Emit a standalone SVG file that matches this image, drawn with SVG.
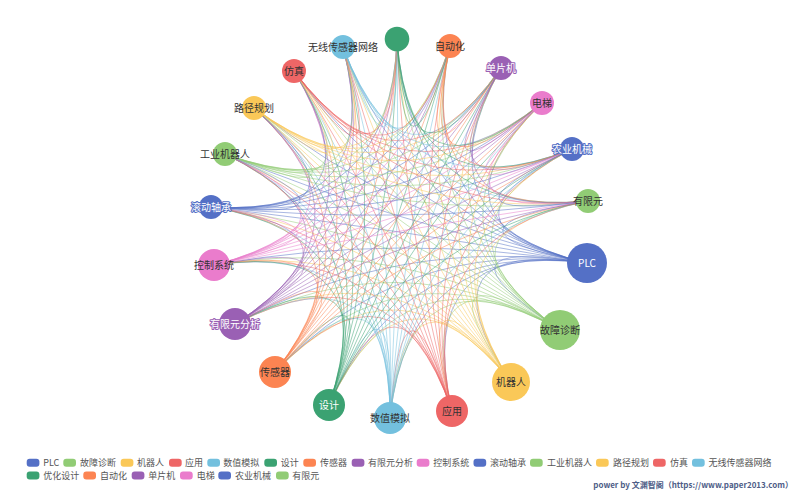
<svg xmlns="http://www.w3.org/2000/svg" width="800" height="493" viewBox="0 0 800 493">
<style>
#connectors path{fill:none;stroke-width:1;stroke-opacity:.5}
.nd text{font-family:"Noto Sans CJK SC","Liberation Sans",sans-serif;font-size:10px;text-anchor:middle}
.dk{fill:#333}
.wt{fill:#fff;stroke-width:2;paint-order:stroke;stroke-linejoin:round}
.lg text{font-family:"Noto Sans CJK SC","Liberation Sans",sans-serif;font-size:9px;fill:#555}
.lg rect{width:12.7px;height:8px;rx:3px}
</style>
<rect width="800" height="493" fill="#fff"/>
<g id="connectors">
<g stroke="#5470c6">
<path d="M587 263Q417 235 560 330"/><path d="M587 263Q415 238 511 382"/><path d="M587 263Q412 239 452 411"/><path d="M587 263Q409 240 390 418"/><path d="M587 263Q405 239 329 405"/><path d="M587 263Q403 237 275 372"/><path d="M587 263Q401 235 235 324"/><path d="M587 263Q400 232 214 265"/><path d="M587 263Q400 229 211 207"/><path d="M587 263Q400 226 225 154"/><path d="M587 263Q402 224 254 108"/><path d="M587 263Q404 222 294 71"/><path d="M587 263Q406 221 343 47"/><path d="M587 263Q409 221 397 39"/><path d="M587 263Q412 221 450 46"/><path d="M587 263Q414 222 501 68"/><path d="M587 263Q416 224 542 103"/><path d="M587 263Q418 226 572 149"/><path d="M587 263Q418 229 588 201"/>
</g>
<g stroke="#91cc75">
<path d="M560 330Q414 241 511 382"/><path d="M560 330Q411 242 452 411"/><path d="M560 330Q408 243 390 418"/><path d="M560 330Q404 242 329 405"/><path d="M560 330Q402 240 275 372"/><path d="M560 330Q400 238 235 324"/><path d="M560 330Q399 235 214 265"/><path d="M560 330Q399 232 211 207"/><path d="M560 330Q399 229 225 154"/><path d="M560 330Q401 227 254 108"/><path d="M560 330Q403 225 294 71"/><path d="M560 330Q405 224 343 47"/><path d="M560 330Q408 224 397 39"/><path d="M560 330Q411 224 450 46"/><path d="M560 330Q413 225 501 68"/><path d="M560 330Q415 227 542 103"/><path d="M560 330Q417 229 572 149"/><path d="M560 330Q417 232 588 201"/>
</g>
<g stroke="#fac858">
<path d="M511 382Q409 245 452 411"/><path d="M511 382Q406 246 390 418"/><path d="M511 382Q402 245 329 405"/><path d="M511 382Q400 243 275 372"/><path d="M511 382Q398 241 235 324"/><path d="M511 382Q397 238 214 265"/><path d="M511 382Q397 235 211 207"/><path d="M511 382Q397 232 225 154"/><path d="M511 382Q399 230 254 108"/><path d="M511 382Q401 228 294 71"/><path d="M511 382Q403 227 343 47"/><path d="M511 382Q406 227 397 39"/><path d="M511 382Q409 227 450 46"/><path d="M511 382Q411 228 501 68"/><path d="M511 382Q413 230 542 103"/><path d="M511 382Q415 232 572 149"/><path d="M511 382Q415 235 588 201"/>
</g>
<g stroke="#ee6666">
<path d="M452 411Q403 247 390 418"/><path d="M452 411Q399 246 329 405"/><path d="M452 411Q397 244 275 372"/><path d="M452 411Q395 242 235 324"/><path d="M452 411Q394 239 214 265"/><path d="M452 411Q394 236 211 207"/><path d="M452 411Q394 233 225 154"/><path d="M452 411Q396 231 254 108"/><path d="M452 411Q398 229 294 71"/><path d="M452 411Q400 228 343 47"/><path d="M452 411Q403 228 397 39"/><path d="M452 411Q406 228 450 46"/><path d="M452 411Q408 229 501 68"/><path d="M452 411Q410 231 542 103"/><path d="M452 411Q412 233 572 149"/><path d="M452 411Q412 236 588 201"/>
</g>
<g stroke="#73c0de">
<path d="M390 418Q396 247 329 405"/><path d="M390 418Q394 245 275 372"/><path d="M390 418Q392 243 235 324"/><path d="M390 418Q391 240 214 265"/><path d="M390 418Q391 237 211 207"/><path d="M390 418Q391 234 225 154"/><path d="M390 418Q393 232 254 108"/><path d="M390 418Q395 230 294 71"/><path d="M390 418Q397 229 343 47"/><path d="M390 418Q400 229 397 39"/><path d="M390 418Q403 229 450 46"/><path d="M390 418Q405 230 501 68"/><path d="M390 418Q407 232 542 103"/><path d="M390 418Q409 234 572 149"/><path d="M390 418Q409 237 588 201"/>
</g>
<g stroke="#3ba272">
<path d="M329 405Q390 244 275 372"/><path d="M329 405Q388 242 235 324"/><path d="M329 405Q387 239 214 265"/><path d="M329 405Q387 236 211 207"/><path d="M329 405Q387 233 225 154"/><path d="M329 405Q389 231 254 108"/><path d="M329 405Q391 229 294 71"/><path d="M329 405Q393 228 343 47"/><path d="M329 405Q396 228 397 39"/><path d="M329 405Q399 228 450 46"/><path d="M329 405Q401 229 501 68"/><path d="M329 405Q403 231 542 103"/><path d="M329 405Q405 233 572 149"/><path d="M329 405Q405 236 588 201"/>
</g>
<g stroke="#fc8452">
<path d="M275 372Q386 240 235 324"/><path d="M275 372Q385 237 214 265"/><path d="M275 372Q385 234 211 207"/><path d="M275 372Q385 231 225 154"/><path d="M275 372Q387 229 254 108"/><path d="M275 372Q389 227 294 71"/><path d="M275 372Q391 226 343 47"/><path d="M275 372Q394 226 397 39"/><path d="M275 372Q397 226 450 46"/><path d="M275 372Q399 227 501 68"/><path d="M275 372Q401 229 542 103"/><path d="M275 372Q403 231 572 149"/><path d="M275 372Q403 234 588 201"/>
</g>
<g stroke="#9a60b4">
<path d="M235 324Q383 235 214 265"/><path d="M235 324Q383 232 211 207"/><path d="M235 324Q383 229 225 154"/><path d="M235 324Q385 227 254 108"/><path d="M235 324Q387 225 294 71"/><path d="M235 324Q389 224 343 47"/><path d="M235 324Q392 224 397 39"/><path d="M235 324Q395 224 450 46"/><path d="M235 324Q397 225 501 68"/><path d="M235 324Q399 227 542 103"/><path d="M235 324Q401 229 572 149"/><path d="M235 324Q401 232 588 201"/>
</g>
<g stroke="#ea7ccc">
<path d="M214 265Q382 229 211 207"/><path d="M214 265Q382 226 225 154"/><path d="M214 265Q384 224 254 108"/><path d="M214 265Q386 222 294 71"/><path d="M214 265Q388 221 343 47"/><path d="M214 265Q391 221 397 39"/><path d="M214 265Q394 221 450 46"/><path d="M214 265Q396 222 501 68"/><path d="M214 265Q398 224 542 103"/><path d="M214 265Q400 226 572 149"/><path d="M214 265Q400 229 588 201"/>
</g>
<g stroke="#5470c6">
<path d="M211 207Q382 223 225 154"/><path d="M211 207Q384 221 254 108"/><path d="M211 207Q386 219 294 71"/><path d="M211 207Q388 218 343 47"/><path d="M211 207Q391 218 397 39"/><path d="M211 207Q394 218 450 46"/><path d="M211 207Q396 219 501 68"/><path d="M211 207Q398 221 542 103"/><path d="M211 207Q400 223 572 149"/><path d="M211 207Q400 226 588 201"/>
</g>
<g stroke="#91cc75">
<path d="M225 154Q384 218 254 108"/><path d="M225 154Q386 216 294 71"/><path d="M225 154Q388 215 343 47"/><path d="M225 154Q391 215 397 39"/><path d="M225 154Q394 215 450 46"/><path d="M225 154Q396 216 501 68"/><path d="M225 154Q398 218 542 103"/><path d="M225 154Q400 220 572 149"/><path d="M225 154Q400 223 588 201"/>
</g>
<g stroke="#fac858">
<path d="M254 108Q388 214 294 71"/><path d="M254 108Q390 213 343 47"/><path d="M254 108Q393 213 397 39"/><path d="M254 108Q396 213 450 46"/><path d="M254 108Q398 214 501 68"/><path d="M254 108Q400 216 542 103"/><path d="M254 108Q402 218 572 149"/><path d="M254 108Q402 221 588 201"/>
</g>
<g stroke="#ee6666">
<path d="M294 71Q392 211 343 47"/><path d="M294 71Q395 211 397 39"/><path d="M294 71Q398 211 450 46"/><path d="M294 71Q400 212 501 68"/><path d="M294 71Q402 214 542 103"/><path d="M294 71Q404 216 572 149"/><path d="M294 71Q404 219 588 201"/>
</g>
<g stroke="#73c0de">
<path d="M343 47Q397 210 397 39"/><path d="M343 47Q400 210 450 46"/><path d="M343 47Q402 211 501 68"/><path d="M343 47Q404 213 542 103"/><path d="M343 47Q406 215 572 149"/><path d="M343 47Q406 218 588 201"/>
</g>
<g stroke="#3ba272">
<path d="M397 39Q403 210 450 46"/><path d="M397 39Q405 211 501 68"/><path d="M397 39Q407 213 542 103"/><path d="M397 39Q409 215 572 149"/><path d="M397 39Q409 218 588 201"/>
</g>
<g stroke="#fc8452">
<path d="M450 46Q408 211 501 68"/><path d="M450 46Q410 213 542 103"/><path d="M450 46Q412 215 572 149"/><path d="M450 46Q412 218 588 201"/>
</g>
<g stroke="#9a60b4">
<path d="M501 68Q412 214 542 103"/><path d="M501 68Q414 216 572 149"/><path d="M501 68Q414 219 588 201"/>
</g>
<g stroke="#ea7ccc">
<path d="M542 103Q416 218 572 149"/><path d="M542 103Q416 221 588 201"/>
</g>
<g stroke="#5470c6">
<path d="M572 149Q418 223 588 201"/>
</g>
</g>
<g id="nodes" class="nd">
<g id="n-plc"><circle cx="587" cy="263" r="20" fill="#5470c6"/><text x="587" y="266.8" class="wt" stroke="#5470c6">PLC</text></g>
<g id="n-guzhangzhenduan"><circle cx="560" cy="330" r="20" fill="#91cc75"/><text x="560" y="333.8" class="dk">故障诊断</text></g>
<g id="n-jiqiren"><circle cx="511" cy="382" r="19" fill="#fac858"/><text x="511" y="385.8" class="dk">机器人</text></g>
<g id="n-yingyong"><circle cx="452" cy="411" r="16" fill="#ee6666"/><text x="452" y="414.8" class="dk">应用</text></g>
<g id="n-shuzhimoni"><circle cx="390" cy="418" r="16" fill="#73c0de"/><text x="390" y="421.8" class="dk">数值模拟</text></g>
<g id="n-sheji"><circle cx="329" cy="405" r="16" fill="#3ba272"/><text x="329" y="408.8" class="wt" stroke="#3ba272">设计</text></g>
<g id="n-chuanganqi"><circle cx="275" cy="372" r="16" fill="#fc8452"/><text x="275" y="375.8" class="dk">传感器</text></g>
<g id="n-youxianyuanfenxi"><circle cx="235" cy="324" r="16" fill="#9a60b4"/><text x="235" y="327.8" class="wt" stroke="#9a60b4">有限元分析</text></g>
<g id="n-kongzhixitong"><circle cx="214" cy="265" r="16" fill="#ea7ccc"/><text x="214" y="268.8" class="dk">控制系统</text></g>
<g id="n-gundongzhoucheng"><circle cx="211" cy="207" r="12" fill="#5470c6"/><text x="211" y="210.8" class="wt" stroke="#5470c6">滚动轴承</text></g>
<g id="n-gongyejiqiren"><circle cx="225" cy="154" r="12" fill="#91cc75"/><text x="225" y="157.8" class="dk">工业机器人</text></g>
<g id="n-lujingguihua"><circle cx="254" cy="108" r="12" fill="#fac858"/><text x="254" y="111.8" class="dk">路径规划</text></g>
<g id="n-fangzhen"><circle cx="294" cy="71" r="12" fill="#ee6666"/><text x="294" y="74.8" class="dk">仿真</text></g>
<g id="n-wuxian"><circle cx="343" cy="47" r="12" fill="#73c0de"/><text x="343" y="50.8" class="dk">无线传感器网络</text></g>
<g id="n-youhuasheji"><circle cx="397" cy="39" r="12.3" fill="#3ba272"/></g>
<g id="n-zidonghua"><circle cx="450" cy="46" r="12" fill="#fc8452"/><text x="450" y="49.8" class="dk">自动化</text></g>
<g id="n-danpianji"><circle cx="501" cy="68" r="12" fill="#9a60b4"/><text x="501" y="71.8" class="wt" stroke="#9a60b4">单片机</text></g>
<g id="n-dianti"><circle cx="542" cy="103" r="12" fill="#ea7ccc"/><text x="542" y="106.8" class="dk">电梯</text></g>
<g id="n-nongyejixie"><circle cx="572" cy="149" r="12" fill="#5470c6"/><text x="572" y="152.8" class="wt" stroke="#5470c6">农业机械</text></g>
<g id="n-youxianyuan"><circle cx="588" cy="201" r="12" fill="#91cc75"/><text x="588" y="204.8" class="dk">有限元</text></g>
</g>
<g id="legend" class="lg">
<rect x="26.7" y="458.7" fill="#5470c6"/><text x="43.3" y="466">PLC</text>
<rect x="63.3" y="458.7" fill="#91cc75"/><text x="80" y="466">故障诊断</text>
<rect x="120.7" y="458.7" fill="#fac858"/><text x="137" y="466">机器人</text>
<rect x="169" y="458.7" fill="#ee6666"/><text x="185" y="466">应用</text>
<rect x="207.3" y="458.7" fill="#73c0de"/><text x="223.3" y="466">数值模拟</text>
<rect x="264.3" y="458.7" fill="#3ba272"/><text x="280.7" y="466">设计</text>
<rect x="303.3" y="458.7" fill="#fc8452"/><text x="320" y="466">传感器</text>
<rect x="351.7" y="458.7" fill="#9a60b4"/><text x="368" y="466">有限元分析</text>
<rect x="416.7" y="458.7" fill="#ea7ccc"/><text x="433.3" y="466">控制系统</text>
<rect x="473.5" y="458.7" fill="#5470c6"/><text x="490" y="466">滚动轴承</text>
<rect x="530" y="458.7" fill="#91cc75"/><text x="547" y="466">工业机器人</text>
<rect x="596" y="458.7" fill="#fac858"/><text x="613" y="466">路径规划</text>
<rect x="653" y="458.7" fill="#ee6666"/><text x="670" y="466">仿真</text>
<rect x="692" y="458.7" fill="#73c0de"/><text x="708.5" y="466">无线传感器网络</text>
<rect x="26.7" y="471.5" fill="#3ba272"/><text x="43.3" y="478.8">优化设计</text>
<rect x="83.3" y="471.5" fill="#fc8452"/><text x="100" y="478.8">自动化</text>
<rect x="131.7" y="471.5" fill="#9a60b4"/><text x="148.3" y="478.8">单片机</text>
<rect x="180" y="471.5" fill="#ea7ccc"/><text x="196.7" y="478.8">电梯</text>
<rect x="218.3" y="471.5" fill="#5470c6"/><text x="235" y="478.8">农业机械</text>
<rect x="276" y="471.5" fill="#91cc75"/><text x="292.3" y="478.8">有限元</text>
</g>
<text id="credit" x="793" y="488" text-anchor="end" font-family="'Noto Sans CJK SC','Liberation Sans',sans-serif" font-size="8" font-weight="bold" fill="#4e5d87">power by 文渊智阁（https://www.paper2013.com）</text>
</svg>
